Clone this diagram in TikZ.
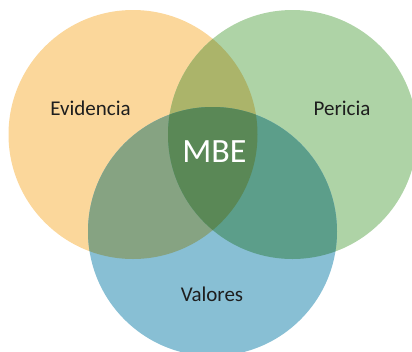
\documentclass[tikz,border=0pt]{standalone}
\usepackage{fontspec}
\setmainfont{Carlito}
\definecolor{cO}{HTML}{FBD79B}
\definecolor{cG}{HTML}{AED3A6}
\definecolor{cB}{HTML}{88BFD4}
\definecolor{cOG}{HTML}{ABB46A}
\definecolor{cOB}{HTML}{86A382}
\definecolor{cGB}{HTML}{5C9E8A}
\definecolor{cA}{HTML}{5A8856}
\definecolor{txt}{HTML}{1E1E1E}
\begin{document}
\begin{tikzpicture}[x=1bp,y=-1bp,
  lab/.style={anchor=base,inner sep=0pt,text=txt,font=\fontsize{21bp}{25bp}\selectfont},
  core/.style={anchor=base,inner sep=0pt,text=white,font=\fontsize{34bp}{40bp}\selectfont}]
\useasboundingbox (0,0) rectangle (412,352);
\def\CO{(133,134.5) circle[radius=124.5]}
\def\CG{(292.5,134.5) circle[radius=124.5]}
\def\CB{(212.5,231.5) circle[radius=124.5]}
\fill[cO] \CO;
\fill[cG] \CG;
\fill[cB] \CB;
\begin{scope}\clip \CO; \fill[cOG] \CG;\end{scope}
\begin{scope}\clip \CO; \fill[cOB] \CB;\end{scope}
\begin{scope}\clip \CG; \fill[cGB] \CB;\end{scope}
\begin{scope}\clip \CO; \clip \CG; \fill[cA] \CB;\end{scope}
\node[lab] (evidencia) at (90.5,115.7) {Evidencia};
\node[lab] (pericia) at (342,115.7) {Pericia};
\node[lab] (valores) at (212,301.7) {Valores};
\node[core] (mbe) at (214.5,162.3) {MBE};
\end{tikzpicture}
\end{document}
